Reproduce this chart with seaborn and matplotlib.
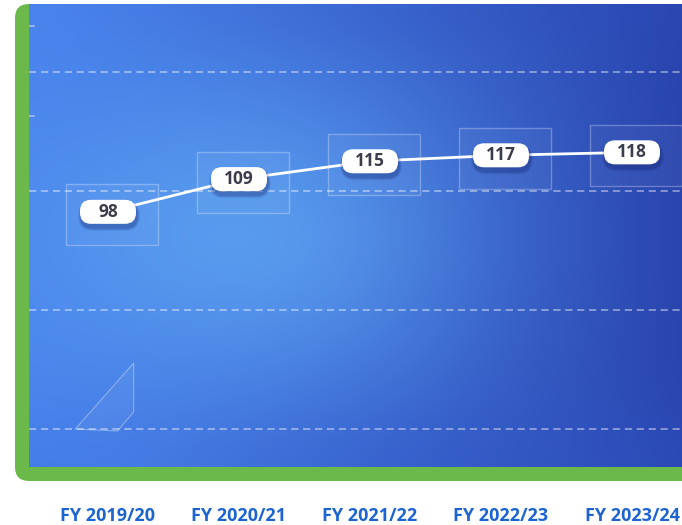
import numpy as np
import pandas as pd
import seaborn as sns
import matplotlib.pyplot as plt
from matplotlib.patches import FancyBboxPatch, Rectangle, Polygon
from matplotlib.transforms import Affine2D, ScaledTranslation

# data
years = ["FY 2019/20", "FY 2020/21", "FY 2021/22", "FY 2022/23", "FY 2023/24"]
values = [98, 109, 115, 117, 118]
grid_levels = [25, 65, 105, 145]

df = pd.DataFrame({"year": years, "value": values})

sns.set_theme(style="white")
plt.rcParams["font.family"] = ["Open Sans", "DejaVu Sans"]

W, H = 682, 525
fig = plt.figure(figsize=(W / 100, H / 100), dpi=100)
fig.patch.set_facecolor("white")

# image-pixel transform (top-left origin)
img = Affine2D().scale(1, -1).translate(0, H).scale(1 / W, 1 / H) + fig.transFigure

# green frame behind the panel
fig.add_artist(FancyBboxPatch((15, 4), 700, 477, boxstyle="round,pad=0,rounding_size=14",
                              transform=img, fc="#6ab94a", ec="none", zorder=0))

ax = fig.add_axes([29 / W, 1 - 467 / H, (700 - 29) / W, 463 / H])
ax.set_zorder(1)
xlim = (-0.603, -0.603 + 671 / 131)
ylim = (12.23, 167.86)

# background gradient
ny, nx = 240, 340
u = np.linspace(0, 1, nx)[None, :] * np.ones((ny, 1))
v = np.linspace(0, 1, ny)[:, None] * np.ones((1, nx))
c_left = np.array([72, 130, 236]) / 255
c_right = np.array([40, 66, 170]) / 255
t = (u ** 1.3)[..., None]
grad = c_left * (1 - t) + c_right * t
spot = np.exp(-(((u - 0.32) / 0.33) ** 2 + ((v - 0.5) / 0.33) ** 2))[..., None] * 0.8
c_spot = np.array([94, 164, 242]) / 255
grad = grad * (1 - spot) + c_spot * spot
top = np.exp(-((v / 0.12) ** 2))[..., None] * np.clip(u * 1.2, 0, 1)[..., None] * 0.25
grad = grad * (1 - top) + np.array([45, 75, 190]) / 255 * top
bot = np.exp(-(((1 - v) / 0.14) ** 2))[..., None] * np.clip(u * 1.5, 0.3, 1)[..., None] * 0.35
grad = grad * (1 - bot) + np.array([48, 84, 200]) / 255 * bot
ax.imshow(grad, extent=(xlim[0], xlim[1], ylim[0], ylim[1]), aspect="auto",
          origin="upper", zorder=0, interpolation="bilinear")

for g in grid_levels:
    ax.axhline(g, color="white", alpha=0.45, lw=1.3, ls=(0, (4, 2.6)), zorder=1)
for f in [0.9525, 0.758]:
    ax.plot([0, 0.007], [f, f], transform=ax.transAxes, color="white", alpha=0.45, lw=1.3, zorder=1)

# decorative triangle
ax.add_patch(Polygon([(0.069, 0.082), (0.156, 0.2246), (0.156, 0.119), (0.132, 0.0778)],
                     closed=True, transform=ax.transAxes, fc=(1, 1, 1, 0.05),
                     ec=(1, 1, 1, 0.35), lw=0.8, zorder=1))

sns.lineplot(data=df, x="year", y="value", color="white", lw=2, ax=ax, zorder=3)

for i, val in enumerate(values):
    tr = fig.dpi_scale_trans + ScaledTranslation(i, val, ax.transData)
    ax.add_patch(Rectangle((-0.42, -0.335), 0.92, 0.61, transform=tr,
                           fc=(1, 1, 1, 0.04), ec=(1, 1, 1, 0.28), lw=1, zorder=2))
    for k, a in enumerate([0.10, 0.12, 0.16]):
        grow = 0.03 - k * 0.01
        ax.add_patch(FancyBboxPatch((-0.28 - grow + 0.01, -0.12 - grow - 0.04), 0.56 + 2 * grow, 0.24 + 2 * grow,
                                    boxstyle="round,pad=0,rounding_size=%.3f" % (0.12 + grow),
                                    transform=tr, fc=(0.05, 0.12, 0.4, a), ec="none", zorder=4))
    ax.add_patch(FancyBboxPatch((-0.28, -0.12), 0.56, 0.24, boxstyle="round,pad=0,rounding_size=0.11",
                                transform=tr, fc="white", ec="none", zorder=5))
    ax.text(i, val, str(val), ha="center", va="center", fontsize=12.5, fontweight="bold",
            color="#3b3c4c", zorder=6)

ax.set_xlim(*xlim)
ax.set_ylim(*ylim)
ax.set_xticks(range(len(years)))
ax.set_xticklabels(years)
ax.set_yticks([])
ax.set_xlabel("")
ax.set_ylabel("")
ax.tick_params(axis="x", length=0, pad=29, labelsize=13, labelcolor="#1b64d2")
for lab in ax.get_xticklabels():
    lab.set_fontweight("bold")
for s in ax.spines.values():
    s.set_visible(False)

fig.savefig("out.png", dpi=100)
